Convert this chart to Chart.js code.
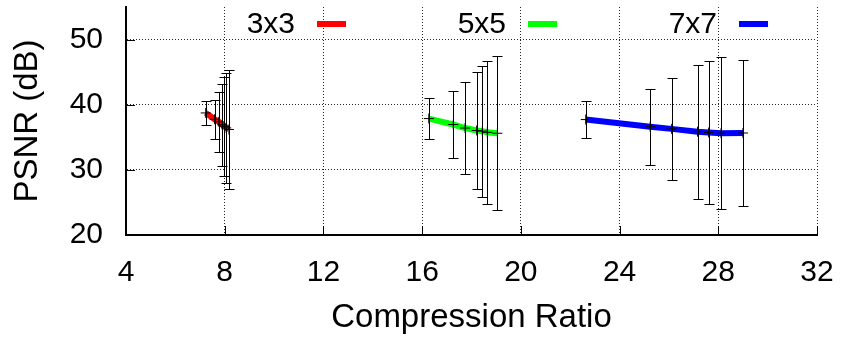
<!DOCTYPE html>
<html>
<head>
<meta charset="utf-8">
<script src="https://cdn.jsdelivr.net/npm/chart.js@4/dist/chart.umd.min.js"></script>
<style>
  html, body { margin: 0; padding: 0; background: #fff; }
</style>
</head>
<body>
<canvas id="myChart" width="841" height="338"></canvas>
<script>
// compression ratio / mean PSNR / std dev per kernel size
var ratio3 = [7.23, 7.59, 7.76, 7.90, 7.99, 8.06, 8.17];
var psnr3  = [38.74, 37.76, 37.38, 36.92, 36.70, 36.44, 36.20];
var std3   = [1.83, 3.02, 4.57, 6.29, 7.63, 8.50, 9.08];

var ratio5 = [16.27, 17.26, 17.74, 18.21, 18.44, 18.64, 19.05];
var psnr5  = [37.87, 36.96, 36.42, 36.04, 35.94, 35.76, 35.62];
var std5   = [3.09, 5.07, 7.08, 8.93, 10.05, 10.94, 11.80];

var ratio7 = [22.63, 25.24, 26.11, 27.16, 27.61, 28.11, 29.00];
var psnr7  = [37.72, 36.63, 36.29, 35.86, 35.74, 35.62, 35.66];
var std7   = [2.89, 5.81, 7.86, 10.27, 11.00, 11.64, 11.14];

var seriesLabels = ['3x3', '5x5', '7x7'];
var xTicks = [4, 8, 12, 16, 20, 24, 28, 32];
var yTicks = [20, 30, 40, 50];

var FONT = '"Liberation Sans", Arial, Helvetica, sans-serif';

function pts(xs, ys) {
    return xs.map(function (x, i) { return {x: x, y: ys[i]}; });
}

function serie(label, xs, ys, errs, color) {
    return {
        label: label,
        data: pts(xs, ys),
        errors: errs,
        borderColor: color,
        backgroundColor: color,
        borderWidth: 6,
        tension: 0,
        pointStyle: 'cross',
        pointRadius: 5,
        pointBorderColor: '#000',
        pointBorderWidth: 1,
        pointHoverRadius: 5
    };
}

// error bars on top of the lines
var errorBars = {
    id: 'errorBars',
    afterDatasetsDraw: function (chart) {
        var ctx = chart.ctx, xs = chart.scales.x, ys = chart.scales.y;
        ctx.save();
        ctx.strokeStyle = '#000';
        ctx.lineWidth = 1;
        chart.data.datasets.forEach(function (ds) {
            ds.data.forEach(function (p, j) {
                var e = ds.errors[j];
                var px = Math.round(xs.getPixelForValue(p.x)) + 0.5;
                var top = Math.round(ys.getPixelForValue(p.y + e)) + 0.5;
                var bot = Math.round(ys.getPixelForValue(p.y - e)) + 0.5;
                ctx.beginPath();
                ctx.moveTo(px, top); ctx.lineTo(px, bot);
                ctx.moveTo(px - 5, top); ctx.lineTo(px + 5, top);
                ctx.moveTo(px - 5, bot); ctx.lineTo(px + 5, bot);
                ctx.stroke();
            });
        });
        ctx.restore();
    }
};

// small inward tick marks + gnuplot style key
var frame = {
    id: 'frame',
    afterDraw: function (chart) {
        var ctx = chart.ctx, a = chart.chartArea;
        ctx.save();
        ctx.strokeStyle = '#000';
        ctx.lineWidth = 1;
        ctx.beginPath();
        chart.scales.x.ticks.forEach(function (t) {
            var px = Math.round(chart.scales.x.getPixelForValue(t.value)) + 0.5;
            ctx.moveTo(px, a.bottom); ctx.lineTo(px, a.bottom - 9);
        });
        chart.scales.y.ticks.forEach(function (t) {
            var py = Math.round(chart.scales.y.getPixelForValue(t.value)) + 0.5;
            ctx.moveTo(a.left, py); ctx.lineTo(a.left + 9, py);
        });
        ctx.stroke();

        ctx.font = '30px ' + FONT;
        ctx.textAlign = 'right';
        ctx.textBaseline = 'middle';
        chart.data.datasets.forEach(function (ds, i) {
            var xEnd = 295 + i * 211;
            ctx.fillStyle = '#000';
            ctx.fillText(ds.label, xEnd, 25);
            ctx.strokeStyle = ds.borderColor;
            ctx.lineWidth = 6;
            ctx.beginPath();
            ctx.moveTo(xEnd + 22, 24);
            ctx.lineTo(xEnd + 51, 24);
            ctx.stroke();
        });
        ctx.restore();
    }
};

var ctx = document.getElementById('myChart');
var chart = new Chart(ctx, {
    type: 'line',
    data: {
        datasets: [
            serie(seriesLabels[0], ratio3, psnr3, std3, '#ff0000'),
            serie(seriesLabels[1], ratio5, psnr5, std5, '#00ff00'),
            serie(seriesLabels[2], ratio7, psnr7, std7, '#0000ff')
        ]
    },
    options: {
        responsive: false,
        animation: false,
        layout: { padding: { top: 7, right: 24, left: 0, bottom: 0 } },
        plugins: {
            legend: { display: false },
            tooltip: { enabled: false }
        },
        scales: {
            x: {
                type: 'linear',
                min: 4,
                max: 32,
                afterBuildTicks: function (s) { s.ticks = xTicks.map(function (v) { return {value: v}; }); },
                afterFit: function (s) { s.height = 103; s.paddingLeft = 0; s.paddingRight = 0; },
                ticks: { color: '#000', padding: 20, font: { family: FONT, size: 30 } },
                grid: { color: 'rgba(0,0,0,0.85)', lineWidth: 1, drawTicks: false },
                border: { display: true, color: '#000', width: 2, dash: [1, 2] },
                title: {
                    display: true,
                    text: 'Compression Ratio',
                    color: '#000',
                    font: { family: FONT, size: 33 },
                    padding: { top: 0, bottom: 0 }
                }
            },
            y: {
                min: 20,
                max: 55,
                afterBuildTicks: function (s) { s.ticks = yTicks.map(function (v) { return {value: v}; }); },
                afterFit: function (s) { s.width = 126; s.paddingTop = 0; s.paddingBottom = 0; },
                ticks: { color: '#000', padding: 23, font: { family: FONT, size: 30 } },
                grid: { color: 'rgba(0,0,0,0.85)', lineWidth: 1, drawTicks: false },
                border: { display: true, color: '#000', width: 2, dash: [1, 2] },
                title: {
                    display: true,
                    text: 'PSNR (dB)',
                    color: '#000',
                    font: { family: FONT, size: 33 },
                    padding: { top: 8, bottom: 0 }
                }
            }
        }
    },
    plugins: [errorBars, frame]
});
</script>
</body>
</html>
